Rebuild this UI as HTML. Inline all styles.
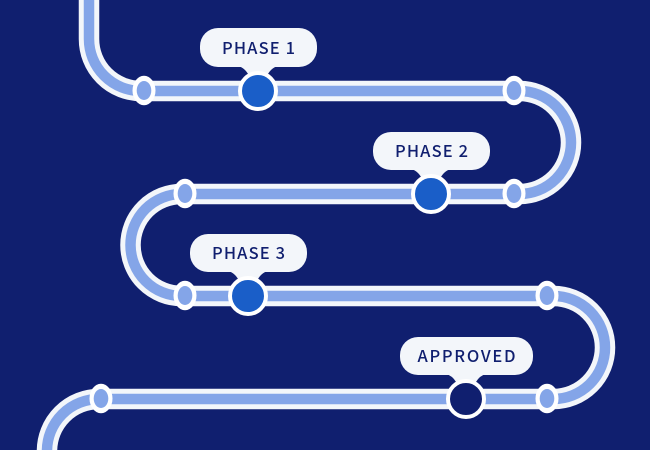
<!DOCTYPE html>
<html><head><meta charset="utf-8"><style>
html,body{margin:0;padding:0;background:#101f6f;width:650px;height:450px;overflow:hidden}
svg{display:block}
text{font-family:"Noto Sans CJK JP","Liberation Sans",sans-serif;font-size:16.5px;font-weight:500;fill:#101f6f;text-anchor:middle}
</style></head><body>
<svg width="650" height="450" viewBox="0 0 650 450" xmlns="http://www.w3.org/2000/svg">
<rect width="650" height="450" fill="#101f6f"/>
<path d="M89 -5V39A52 52 0 0 0 141 91H519.500A51.500 51.500 0 0 1 519.500 194H181.500A51 51 0 0 0 181.500 296H553.500A51.500 51.500 0 0 1 553.500 399H99A52 52 0 0 0 47 451V455" fill="none" stroke="#f3f6fa" stroke-width="20.500"/>
<path d="M89 -5V39A52 52 0 0 0 141 91H519.500A51.500 51.500 0 0 1 519.500 194H181.500A51 51 0 0 0 181.500 296H553.500A51.500 51.500 0 0 1 553.500 399H99A52 52 0 0 0 47 451V455" fill="none" stroke="#84a5e8" stroke-width="10.500"/>
<g fill="#fff">
<ellipse cx="144" cy="90.500" rx="11.500" ry="14.700"/>
<ellipse cx="514" cy="90.500" rx="11.500" ry="14.700"/>
<ellipse cx="514" cy="193.500" rx="11.500" ry="14.700"/>
<ellipse cx="185" cy="193.500" rx="11.500" ry="14.700"/>
<ellipse cx="185" cy="295.500" rx="11.500" ry="14.700"/>
<ellipse cx="547" cy="295.500" rx="11.500" ry="14.700"/>
<ellipse cx="547" cy="398.500" rx="11.500" ry="14.700"/>
<ellipse cx="101" cy="398.500" rx="11.500" ry="14.700"/>
</g>
<g fill="#84a5e8">
<ellipse cx="144" cy="90.500" rx="7.300" ry="9.500"/>
<ellipse cx="514" cy="90.500" rx="7.300" ry="9.500"/>
<ellipse cx="514" cy="193.500" rx="7.300" ry="9.500"/>
<ellipse cx="185" cy="193.500" rx="7.300" ry="9.500"/>
<ellipse cx="185" cy="295.500" rx="7.300" ry="9.500"/>
<ellipse cx="547" cy="295.500" rx="7.300" ry="9.500"/>
<ellipse cx="547" cy="398.500" rx="7.300" ry="9.500"/>
<ellipse cx="101" cy="398.500" rx="7.300" ry="9.500"/>
</g>
<g fill="#f3f6fa">
<rect x="200" y="28" width="117" height="39" rx="18"/><path d="M238 66Q246 68 250 78H266Q270 68 278 66Z"/>
<rect x="373" y="132" width="117" height="38" rx="18"/><path d="M411 169Q419 171 423 181H439Q443 171 451 169Z"/>
<rect x="190" y="234" width="117" height="38" rx="18"/><path d="M228 271Q236 273 240 283H256Q260 273 268 271Z"/>
<rect x="400" y="337" width="133" height="38" rx="18"/><path d="M446 374Q454 376 458 386H474Q478 376 486 374Z"/>
</g>
<g stroke="#fff" stroke-width="4" fill="#1a5ec8">
<circle cx="258" cy="91" r="18"/>
<circle cx="431" cy="194" r="18"/>
<circle cx="248" cy="296" r="18"/>
<circle cx="466" cy="399" r="18" fill="#101f6f"/>
</g>
<text x="258.500" y="54" textLength="73">PHASE 1</text>
<text x="431.500" y="157" textLength="73">PHASE 2</text>
<text x="248.500" y="259" textLength="73">PHASE 3</text>
<text x="466.500" y="362" textLength="98">APPROVED</text>
</svg>
</body></html>
